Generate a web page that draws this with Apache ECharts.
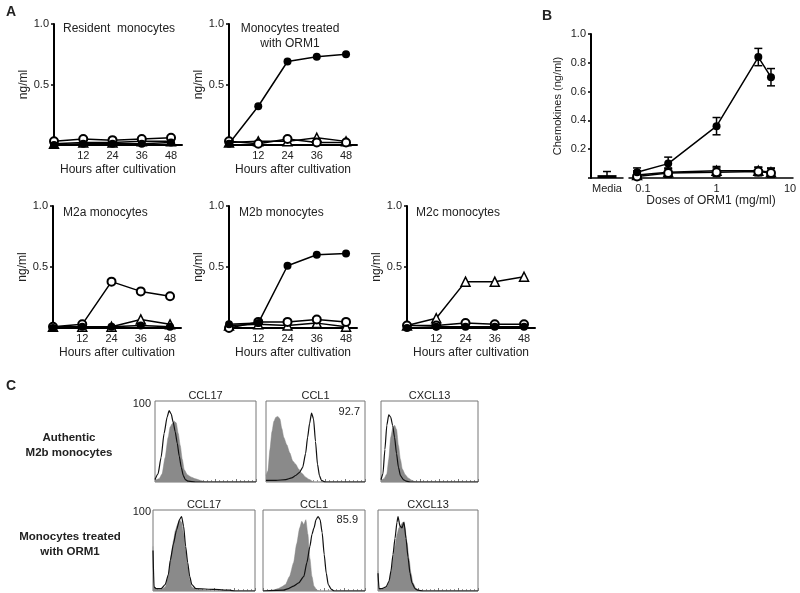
<!DOCTYPE html>
<html>
<head>
<meta charset="utf-8">
<title>ORM1 monocytes</title>
<script src="https://cdn.jsdelivr.net/npm/echarts@6/dist/echarts.min.js"></script>
<style>
  html, body { margin:0; padding:0; background:#fff; }
  #main { width:800px; height:593px; }
</style>
</head>
<body>
<div id="main"></div>
<script>
// ---- panel A : time course (ng/ml) ----
var hours = [0, 12, 24, 36, 48];
var hourTicks = [12, 24, 36, 48];

var residentFilled = [0.00, 0.01, 0.01, 0.01, 0.02];
var residentOpen   = [0.03, 0.05, 0.04, 0.05, 0.06];
var residentTri    = [0.01, 0.02, 0.02, 0.03, 0.03];

var orm1Filled = [0.01, 0.32, 0.69, 0.73, 0.75];
var orm1Open   = [0.03, 0.01, 0.05, 0.02, 0.02];
var orm1Tri    = [0.02, 0.03, 0.03, 0.06, 0.03];

var m2aFilled = [0.00, 0.01, 0.01, 0.02, 0.01];
var m2aOpen   = [0.01, 0.03, 0.38, 0.30, 0.26];
var m2aTri    = [0.01, 0.01, 0.01, 0.07, 0.03];

var m2bFilled = [0.03, 0.04, 0.51, 0.60, 0.61];
var m2bOpen   = [0.00, 0.05, 0.05, 0.07, 0.05];
var m2bTri    = [0.02, 0.03, 0.02, 0.04, 0.01];

var m2cFilled = [0.00, 0.01, 0.01, 0.01, 0.01];
var m2cOpen   = [0.02, 0.02, 0.04, 0.03, 0.03];
var m2cTri    = [0.02, 0.08, 0.38, 0.38, 0.42];

// ---- panel B : dose response ----
var doses = [0.083, 0.22, 1.0, 3.7, 5.5];
var doseFilled    = [0.04, 0.10, 0.36, 0.84, 0.70];
var doseFilledErr = [0.03, 0.045, 0.06, 0.06, 0.06];
var doseOpen      = [0.01, 0.035, 0.04, 0.045, 0.035];
var doseOpenErr   = [0.03, 0.03, 0.03, 0.03, 0.03];
var doseTri       = [0.02, 0.04, 0.05, 0.05, 0.04];
var doseTriErr    = [0.03, 0.03, 0.03, 0.025, 0.03];
var mediaCat  = ['Media'];
var mediaMean = [0.02];
var mediaErr  = [0.025];

// ---- panel C : histograms [channel %, count %] ----
var authCCL17Iso  = [[0,2],[4,4],[7,10],[10,30],[13,55],[15,68],[17,72],[19,75],[21,73],[23,60],[25,45],[27,28],[29,15],[32,9],[36,6],[40,4],[45,2],[50,0],[100,0]];
var authCCL17     = [[0,3],[3,10],[6,30],[9,60],[12,80],[14,88],[16,84],[18,74],[20,62],[22,48],[24,32],[26,18],[28,8],[30,3],[33,1],[40,0],[100,0]];
var authCCL1Iso   = [[0,8],[2,14],[4,40],[6,62],[8,75],[10,80],[12,81],[14,78],[16,66],[18,55],[21,46],[24,36],[27,26],[30,22],[33,16],[36,11],[40,6],[44,3],[48,0],[100,0]];
var authCCL1      = [[0,2],[10,2],[20,3],[26,5],[30,8],[34,12],[37,18],[40,35],[42,55],[44,72],[46,85],[48,78],[50,50],[52,22],[54,8],[56,2],[60,0],[100,0]];
var authCXCL13Iso = [[0,2],[3,4],[6,10],[8,28],[10,55],[12,66],[14,70],[16,65],[18,45],[20,28],[22,16],[25,9],[28,5],[32,2],[36,0],[100,0]];
var authCXCL13    = [[0,3],[2,10],[4,40],[6,70],[8,83],[10,80],[12,70],[14,55],[16,35],[18,18],[20,8],[23,3],[26,1],[30,0],[100,0]];
var ormCCL17Iso   = [[0,55],[1,5],[3,2],[8,2],[12,5],[15,18],[18,45],[20,62],[22,75],[24,82],[26,88],[28,85],[30,70],[32,50],[34,30],[36,14],[38,5],[42,2],[50,1],[60,0],[100,0]];
var ormCCL17      = [[0,50],[1,5],[3,3],[8,3],[12,8],[15,20],[17,38],[20,58],[23,75],[26,88],[28,92],[30,80],[32,55],[34,35],[36,18],[38,8],[42,3],[60,2],[75,1],[80,0],[100,0]];
var ormCCL1Iso    = [[0,0],[10,1],[15,3],[18,5],[22,8],[26,18],[30,35],[33,58],[36,78],[38,86],[40,82],[42,88],[44,70],[46,40],[48,18],[50,6],[53,1],[56,0],[100,0]];
var ormCCL1       = [[0,0],[20,1],[25,3],[30,6],[35,10],[40,18],[43,35],[46,55],[48,70],[50,78],[52,88],[54,92],[56,88],[58,72],[60,45],[62,22],[64,8],[67,2],[70,0],[100,0]];
var ormCXCL13Iso  = [[0,25],[1,3],[4,2],[8,4],[11,10],[14,30],[17,55],[19,70],[21,78],[23,82],[25,85],[27,78],[29,60],[31,40],[33,22],[35,10],[38,3],[42,0],[100,0]];
var ormCXCL13     = [[0,22],[1,3],[4,3],[8,5],[11,12],[13,25],[15,45],[17,65],[19,85],[20,92],[22,80],[24,78],[26,85],[28,65],[30,42],[32,22],[34,10],[37,3],[40,1],[45,0],[100,0]];

var FONT = '"Liberation Sans", Arial, sans-serif';
var TXT = '#222';

var grids = [], xAxes = [], yAxes = [], series = [], titles = [];

function zip(xs, ys){
	var out = [];
	for(var i=0; i<xs.length; i++){ out.push([xs[i], ys[i]]); }
	return out;
}

function marker(kind){
	if(kind == 'filled'){
		return { symbol:'circle', symbolSize:8, itemStyle:{ color:'#000' } };
	}else if(kind == 'open'){
		return { symbol:'circle', symbolSize:8, itemStyle:{ color:'#fff', borderColor:'#000', borderWidth:2 } };
	}
	return { symbol:'triangle', symbolSize:9, itemStyle:{ color:'#fff', borderColor:'#000', borderWidth:1.5 } };
}

function lineSeries(gi, xs, ys, kind, z){
	var m = marker(kind);
	return {
		type:'line', xAxisIndex:gi, yAxisIndex:gi, data:zip(xs, ys),
		symbol:m.symbol, symbolSize:m.symbolSize, itemStyle:m.itemStyle,
		lineStyle:{ color:'#000', width:1.5 }, z:z, animation:false
	};
}

function addText(text, left, top, opt){
	opt = opt || {};
	titles.push({
		text:text, left:left, top:top, padding:0,
		textAlign:opt.align || 'left',
		textStyle:{ fontSize:opt.size || 12, fontWeight:opt.bold ? 'bold' : 'normal',
			color:TXT, fontFamily:FONT, lineHeight:opt.lh || 14 }
	});
}

// panel A time-course grids
var timePanels = [
	{ left:54,  top:24,  h:121, f:residentFilled, o:residentOpen, t:residentTri },
	{ left:229, top:24,  h:121, f:orm1Filled, o:orm1Open, t:orm1Tri },
	{ left:53,  top:206, h:122, f:m2aFilled, o:m2aOpen, t:m2aTri },
	{ left:229, top:206, h:122, f:m2bFilled, o:m2bOpen, t:m2bTri },
	{ left:407, top:206, h:122, f:m2cFilled, o:m2cOpen, t:m2cTri }
];

for(var i=0; i<timePanels.length; i++){
	var p = timePanels[i];
	grids.push({ left:p.left, top:p.top, width:128, height:p.h, containLabel:false, outerBoundsMode:'none' });
	xAxes.push({
		gridIndex:i, type:'value', min:0, max:52.5, interval:12,
		axisLine:{ show:true, onZero:false, lineStyle:{ color:'#000', width:2 } },
		axisTick:{ show:false }, splitLine:{ show:false },
		axisLabel:{ margin:5, fontSize:11, color:TXT, fontFamily:FONT,
			formatter:function(v){ return hourTicks.indexOf(v) >= 0 ? String(v) : ''; } },
		name:'Hours after cultivation', nameLocation:'middle', nameGap:19,
		nameTextStyle:{ fontSize:12, color:TXT, fontFamily:FONT }
	});
	yAxes.push({
		gridIndex:i, type:'value', min:0, max:1, interval:0.5,
		axisLine:{ show:true, onZero:false, lineStyle:{ color:'#000', width:2 } },
		axisTick:{ show:true, length:3, lineStyle:{ color:'#000', width:1.5 } },
		splitLine:{ show:false },
		axisLabel:{ margin:5, fontSize:11, color:TXT, fontFamily:FONT,
			formatter:function(v){ return v === 0 ? '' : v.toFixed(1); } },
		name:'ng/ml', nameLocation:'middle', nameGap:24,
		nameTextStyle:{ fontSize:12, color:TXT, fontFamily:FONT }
	});
	series.push(lineSeries(i, hours, p.t, 'tri', 3));
	series.push(lineSeries(i, hours, p.o, 'open', 4));
	series.push(lineSeries(i, hours, p.f, 'filled', 5));
}

// panel B : media grid (5) + log dose grid (6)
grids.push({ left:591, top:34, width:32, height:144, containLabel:false, outerBoundsMode:'none' });
grids.push({ left:629, top:34, width:164, height:144, containLabel:false, outerBoundsMode:'none' });
xAxes.push({
	gridIndex:5, type:'category', data:mediaCat,
	axisLine:{ show:true, lineStyle:{ color:'#000', width:1.5 } },
	axisTick:{ show:false },
	axisLabel:{ margin:5, fontSize:11, color:TXT, fontFamily:FONT }
});
xAxes.push({
	gridIndex:6, type:'log', logBase:10, min:0.0645, max:10.96,
	axisLine:{ show:true, onZero:false, lineStyle:{ color:'#000', width:1.5 } },
	axisTick:{ show:false }, splitLine:{ show:false }, minorSplitLine:{ show:false },
	axisLabel:{ margin:5, fontSize:11, color:TXT, fontFamily:FONT, showMinLabel:true, showMaxLabel:true,
		formatter:function(v){
			var lg = Math.log(v) / Math.LN10;
			if(Math.abs(lg - Math.round(lg)) > 1e-6){ return ''; }
			return String(Math.pow(10, Math.round(lg)));
		} },
	name:'Doses of ORM1 (mg/ml)', nameLocation:'middle', nameGap:16,
	nameTextStyle:{ fontSize:12, color:TXT, fontFamily:FONT }
});
yAxes.push({
	gridIndex:5, type:'value', min:0, max:1, interval:0.2,
	axisLine:{ show:true, lineStyle:{ color:'#000', width:2 } },
	axisTick:{ show:true, length:3, lineStyle:{ color:'#000', width:1.5 } },
	splitLine:{ show:false },
	axisLabel:{ margin:5, fontSize:11, color:TXT, fontFamily:FONT,
		formatter:function(v){ return v === 0 ? '' : v.toFixed(1); } },
	name:'Chemokines (ng/ml)', nameLocation:'middle', nameGap:28,
	nameTextStyle:{ fontSize:11, color:TXT, fontFamily:FONT }
});
yAxes.push({ gridIndex:6, type:'value', min:0, max:1, show:false });

function errSeries(gi, xs, means, errs){
	var data = [];
	for(var k=0; k<xs.length; k++){ data.push([xs[k], means[k] - errs[k], means[k] + errs[k]]); }
	return {
		type:'custom', xAxisIndex:gi, yAxisIndex:gi, data:data, clip:true, z:2, animation:false,
		encode:{ x:0, y:[1,2] },
		renderItem:function(params, api){
			var x = api.value(0);
			var lo = api.coord([x, api.value(1)]);
			var hi = api.coord([x, api.value(2)]);
			var w = 4, st = { stroke:'#000', lineWidth:1.5 };
			return { type:'group', children:[
				{ type:'line', shape:{ x1:lo[0], y1:lo[1], x2:hi[0], y2:hi[1] }, style:st },
				{ type:'line', shape:{ x1:lo[0]-w, y1:lo[1], x2:lo[0]+w, y2:lo[1] }, style:st },
				{ type:'line', shape:{ x1:hi[0]-w, y1:hi[1], x2:hi[0]+w, y2:hi[1] }, style:st }
			]};
		}
	};
}

series.push({ type:'bar', xAxisIndex:5, yAxisIndex:5, data:mediaMean, barWidth:19,
	itemStyle:{ color:'#000' }, animation:false });
series.push(errSeries(5, [0], mediaMean, mediaErr));
series.push(errSeries(6, doses, doseTri, doseTriErr));
series.push(errSeries(6, doses, doseOpen, doseOpenErr));
series.push(errSeries(6, doses, doseFilled, doseFilledErr));
series.push(lineSeries(6, doses, doseTri, 'tri', 3));
series.push(lineSeries(6, doses, doseOpen, 'open', 4));
series.push(lineSeries(6, doses, doseFilled, 'filled', 5));

// panel C : histograms
var histPanels = [
	{ left:155, top:401, w:101, iso:authCCL17Iso,  pos:authCCL17 },
	{ left:266, top:401, w:99,  iso:authCCL1Iso,   pos:authCCL1 },
	{ left:381, top:401, w:97,  iso:authCXCL13Iso, pos:authCXCL13 },
	{ left:153, top:510, w:102, iso:ormCCL17Iso,   pos:ormCCL17 },
	{ left:263, top:510, w:102, iso:ormCCL1Iso,    pos:ormCCL1 },
	{ left:378, top:510, w:100, iso:ormCXCL13Iso,  pos:ormCXCL13 }
];
for(var j=0; j<histPanels.length; j++){
	var h = histPanels[j], gi = 7 + j;
	grids.push({ left:h.left, top:h.top, width:h.w, height:81, show:true,
		borderColor:'#777', borderWidth:1, containLabel:false, outerBoundsMode:'none' });
	xAxes.push({ gridIndex:gi, type:'value', min:0, max:100, interval:20,
		axisLine:{ show:false }, axisLabel:{ show:false }, splitLine:{ show:false },
		axisTick:{ show:true, inside:true, length:3, lineStyle:{ color:'#777' } },
		minorTick:{ show:true, splitNumber:5, length:2, lineStyle:{ color:'#999' } } });
	yAxes.push({ gridIndex:gi, type:'value', min:0, max:100, show:false });
	series.push({ type:'line', xAxisIndex:gi, yAxisIndex:gi, data:h.iso, showSymbol:false,
		smooth:0.2, smoothMonotone:'x', lineStyle:{ color:'#888', width:0.5 },
		areaStyle:{ color:'#8a8a8a', opacity:1 }, z:2, animation:false });
	series.push({ type:'line', xAxisIndex:gi, yAxisIndex:gi, data:h.pos, showSymbol:false,
		smooth:0.2, smoothMonotone:'x', lineStyle:{ color:'#111', width:1.2 }, z:3, animation:false });
}

// labels
addText('A', 6, 5, { bold:true, size:14 });
addText('B', 542, 9, { bold:true, size:14 });
addText('C', 6, 379, { bold:true, size:14 });

addText('Resident  monocytes', 63, 22);
addText('Monocytes treated\nwith ORM1', 290, 21, { align:'center', lh:15 });
addText('M2a monocytes', 63, 206);
addText('M2b monocytes', 239, 206);
addText('M2c monocytes', 416, 206);

addText('Authentic\nM2b monocytes', 69, 430, { align:'center', bold:true, size:11.5, lh:15 });
addText('Monocytes treated\nwith ORM1', 70, 529, { align:'center', bold:true, size:11.5, lh:15 });

var histTitles = ['CCL17', 'CCL1', 'CXCL13'];
for(var c=0; c<3; c++){
	addText(histTitles[c], histPanels[c].left + histPanels[c].w / 2, 389, { align:'center', size:11 });
	addText(histTitles[c], histPanels[c+3].left + histPanels[c+3].w / 2, 498, { align:'center', size:11 });
}
addText('100', 151, 397, { align:'right', size:11 });
addText('100', 151, 505, { align:'right', size:11 });
addText('92.7', 360, 405, { align:'right', size:11 });
addText('85.9', 358, 513, { align:'right', size:11 });

var chart = echarts.init(document.getElementById('main'), null, { renderer:'canvas' });
chart.setOption({
	backgroundColor:'#fff',
	animation:false,
	title:titles,
	grid:grids,
	xAxis:xAxes,
	yAxis:yAxes,
	series:series
});
</script>
</body>
</html>
